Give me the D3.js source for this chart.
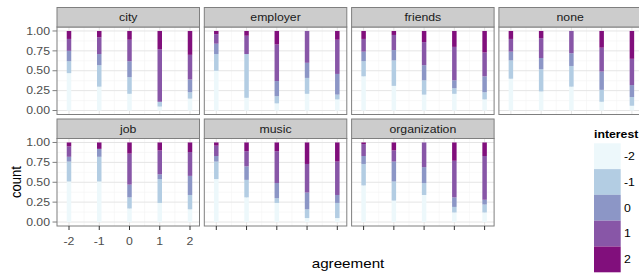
<!DOCTYPE html>
<html>
<head>
<meta charset="utf-8">
<script src="https://cdn.jsdelivr.net/npm/d3@7/dist/d3.min.js"></script>
<style>
  body { margin: 0; background: #fff; }
  svg text { font-family: "Liberation Sans", Arial, sans-serif; }
</style>
</head>
<body>
<div id="chart"></div>
<script>
// facet order and levels
const facets = ["city", "employer", "friends", "none", "job", "music", "organization"];
const agreement = [-2, -1, 0, 1, 2];
const interest = [-2, -1, 0, 1, 2];
const yTicks = [0, 0.25, 0.5, 0.75, 1];
const colors = ["#edf8fb", "#b3cde3", "#8c96c6", "#8856a7", "#810f7c"];

// share of each interest level (-2..2) per agreement level
const city = [
  [.47, .15, .13, .15, .10],
  [.30, .27, .14, .21, .08],
  [.21, .21, .20, .27, .11],
  [.05, .06, .00, .66, .23],
  [.15, .08, .16, .31, .30]
];
const employer = [
  [.50, .21, .13, .12, .04],
  [.16, .55, .00, .23, .06],
  [.09, .09, .19, .46, .17],
  [.21, .20, .19, .40, .00],
  [.14, .06, .26, .43, .11]
];
const friends = [
  [.43, .19, .12, .16, .10],
  [.31, .32, .13, .19, .05],
  [.20, .18, .19, .29, .14],
  [.21, .07, .10, .42, .20],
  [.14, .09, .20, .30, .27]
];
const none = [
  [.40, .23, .11, .16, .10],
  [.24, .28, .14, .25, .09],
  [.30, .26, .16, .28, .00],
  [.11, .15, .23, .30, .21],
  [.06, .11, .15, .33, .35]
];
const job = [
  [.51, .25, .06, .13, .05],
  [.51, .31, .10, .00, .08],
  [.17, .14, .16, .39, .14],
  [.24, .30, .06, .30, .10],
  [.16, .18, .24, .30, .12]
];
const music = [
  [.54, .22, .07, .13, .04],
  [.31, .22, .17, .19, .11],
  [.24, .06, .19, .40, .11],
  [.05, .11, .21, .36, .27],
  [.05, .19, .10, .42, .24]
];
const organization = [
  [.46, .27, .10, .15, .02],
  [.27, .24, .25, .14, .10],
  [.34, .15, .20, .31, .00],
  [.12, .07, .12, .46, .23],
  [.12, .10, .06, .55, .17]
];
const shares = { city, employer, friends, none, job, music, organization };

const W = 639, H = 273;
const SX = 1.17; // the reference text is a bit wider than tall
const panelW = 142.5, colStep = 147.3, left = 57;
const rowTop = [7.5, 119];
const stripH = 19.5, panelH = 87.5;
const barW = 4.5;

const svg = d3.select("#chart").append("svg")
  .attr("width", W).attr("height", H);

function label(sel, x, y, rot) {
  return sel.attr("x", 0).attr("y", 0)
    .attr("transform", `translate(${x},${y}) scale(${SX},1)` + (rot ? ` rotate(${rot})` : ""));
}

const color = d3.scaleOrdinal().domain(interest.map(String)).range(colors);
const stack = d3.stack().keys(interest.map(String)).offset(d3.stackOffsetExpand);

facets.forEach((name, i) => {
  const col = i % 4, row = Math.floor(i / 4);
  const x0 = left + col * colStep;
  const sTop = rowTop[row];
  const pTop = sTop + stripH;

  const x = d3.scaleLinear().domain([-2, 2]).range([x0 + 12, x0 + 133]);
  const y = d3.scaleLinear().domain([-0.05, 1.05]).range([pTop + panelH, pTop]);

  const g = svg.append("g");

  // panel background + grid
  g.append("rect").attr("x", x0).attr("y", pTop).attr("width", panelW).attr("height", panelH)
    .attr("fill", "#fff");
  const minorY = d3.range(0.125, 1, 0.25);
  const minorX = d3.range(-1.5, 2, 1);
  g.selectAll(".mny").data(minorY).join("line")
    .attr("x1", x0).attr("x2", x0 + panelW).attr("y1", d => y(d)).attr("y2", d => y(d))
    .attr("stroke", "#f3f3f3").attr("stroke-width", 0.6);
  g.selectAll(".mnx").data(minorX).join("line")
    .attr("y1", pTop).attr("y2", pTop + panelH).attr("x1", d => x(d)).attr("x2", d => x(d))
    .attr("stroke", "#f3f3f3").attr("stroke-width", 0.6);
  g.selectAll(".mjy").data(yTicks).join("line")
    .attr("x1", x0).attr("x2", x0 + panelW).attr("y1", d => y(d)).attr("y2", d => y(d))
    .attr("stroke", "#e5e5e5").attr("stroke-width", 1);
  g.selectAll(".mjx").data(agreement).join("line")
    .attr("y1", pTop).attr("y2", pTop + panelH).attr("x1", d => x(d)).attr("x2", d => x(d))
    .attr("stroke", "#e5e5e5").attr("stroke-width", 1);

  // stacked, filled bars
  const rows = agreement.map((a, j) => {
    const o = { agreement: a };
    interest.forEach((k, m) => o[String(k)] = shares[name][j][m]);
    return o;
  });
  const series = stack(rows);
  g.selectAll(".layer").data(series).join("g")
    .attr("fill", d => color(d.key))
    .selectAll("rect").data(d => d).join("rect")
    .attr("x", d => x(d.data.agreement) - barW / 2)
    .attr("width", barW)
    .attr("y", d => y(d[1]))
    .attr("height", d => Math.max(0, y(d[0]) - y(d[1])));

  // border
  g.append("rect").attr("x", x0).attr("y", pTop).attr("width", panelW).attr("height", panelH)
    .attr("fill", "none").attr("stroke", "#7f7f7f").attr("stroke-width", 1);

  // strip
  g.append("rect").attr("x", x0).attr("y", sTop).attr("width", panelW).attr("height", stripH)
    .attr("fill", "#cccccc").attr("stroke", "#7f7f7f").attr("stroke-width", 1);
  label(g.append("text"), x0 + panelW / 2, sTop + stripH / 2 + 3.8)
    .attr("text-anchor", "middle").attr("font-size", 10.5).attr("fill", "#1a1a1a")
    .text(name);

  // y axis on first column
  if (col === 0) {
    g.selectAll(".yt").data(yTicks).join("line")
      .attr("x1", x0 - 4.5).attr("x2", x0).attr("y1", d => y(d)).attr("y2", d => y(d))
      .attr("stroke", "#7f7f7f");
    g.selectAll(".yl").data(yTicks).join("text")
      .each(function (d) { label(d3.select(this), x0 - 7, y(d) + 3.7); })
      .attr("text-anchor", "end").attr("font-size", 10.5).attr("fill", "#4d4d4d")
      .text(d => d3.format(".2f")(d));
  }

  // x axis ticks under the bottom row
  if (row === 1) {
    g.selectAll(".xt").data(agreement).join("line")
      .attr("x1", d => x(d)).attr("x2", d => x(d))
      .attr("y1", pTop + panelH).attr("y2", pTop + panelH + 4)
      .attr("stroke", "#333");
    if (col === 0) {
      g.selectAll(".xl").data(agreement).join("text")
        .each(function (d) { label(d3.select(this), x(d), pTop + panelH + 18.5); })
        .attr("text-anchor", "middle").attr("font-size", 10.5).attr("fill", "#4d4d4d")
        .text(d => d);
    }
  }
});

// axis titles
label(svg.append("text"), 348, 268)
  .attr("text-anchor", "middle").attr("font-size", 13).attr("fill", "#000").text("agreement");
label(svg.append("text"), 20.5, 182, -90)
  .attr("text-anchor", "middle").attr("font-size", 13).attr("fill", "#000").text("count");

// legend
const lg = svg.append("g");
label(lg.append("text"), 594, 138)
  .attr("font-size", 10.5).attr("font-weight", "bold").attr("fill", "#000").text("interest");
const keyH = 25.8, keyTop = 143.3;
lg.selectAll(".key").data(interest).join("rect")
  .attr("x", 594).attr("width", 26.7)
  .attr("y", (d, i) => keyTop + i * keyH).attr("height", keyH)
  .attr("fill", d => color(String(d)));
lg.selectAll(".kl").data(interest).join("text")
  .each(function (d, i) { label(d3.select(this), 624, keyTop + i * keyH + keyH / 2 + 3.7); })
  .attr("font-size", 10.5).attr("fill", "#000").text(d => d);
</script>
</body>
</html>
